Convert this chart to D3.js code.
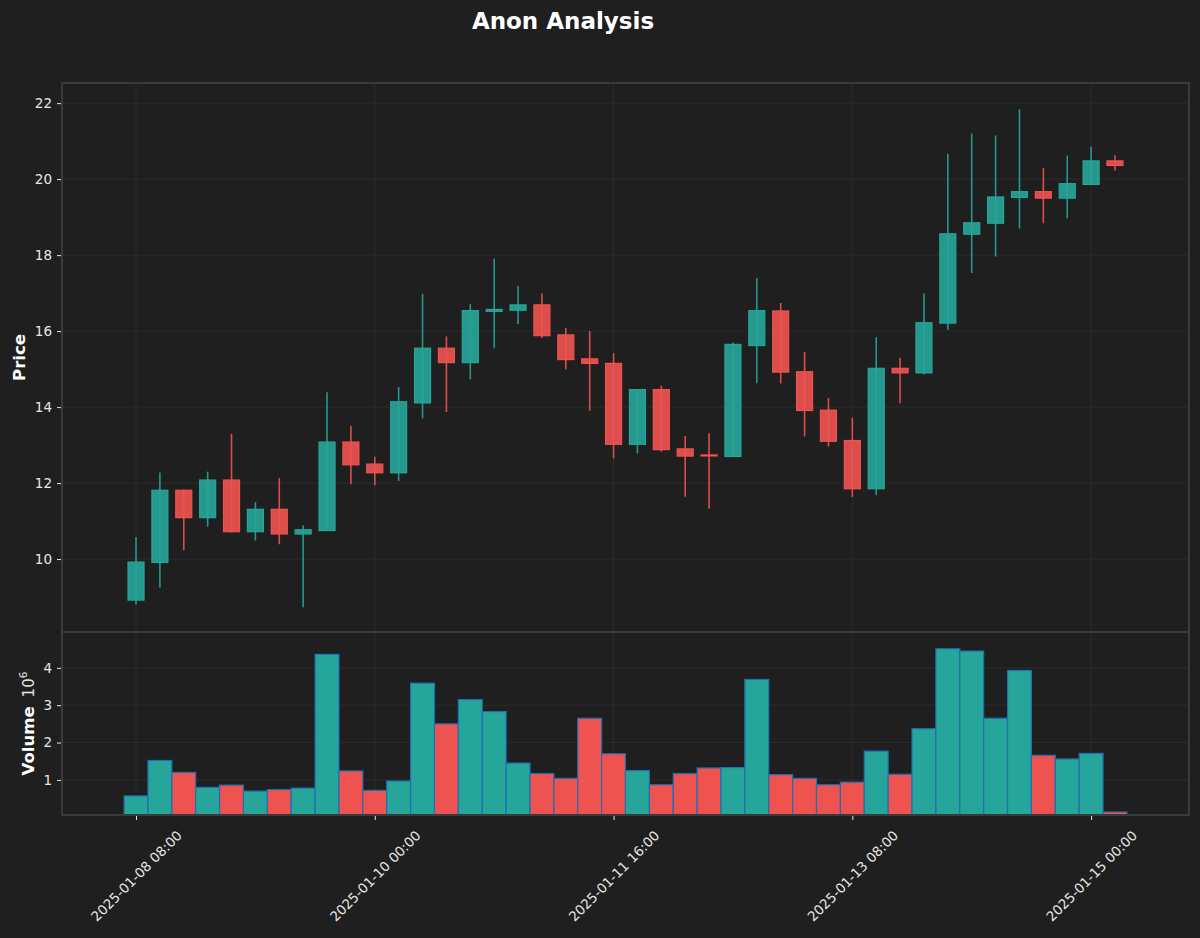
<!DOCTYPE html>
<html><head><meta charset="utf-8">
<script src="https://cdn.jsdelivr.net/npm/d3@7"></script>
<style>
html,body{margin:0;padding:0;background:#1f1f1f;}
svg{display:block;font-family:"DejaVu Sans",sans-serif;}
</style></head>
<body>
<svg id="chart" width="1200" height="938"></svg>
<script>
// ---- data ----
const startTime = "2025-01-08T08:00:00Z";
const stepHours = 4;
const opens  = [8.92,9.91,11.81,11.09,12.08,10.72,11.31,10.66,10.75,13.08,12.50,12.27,14.11,15.55,15.17,16.52,16.55,16.69,15.90,15.27,15.15,13.02,14.46,12.90,12.74,12.70,15.62,16.53,14.93,13.92,13.12,11.85,15.02,14.90,16.21,18.55,18.84,19.52,19.67,19.50,19.86,20.48];
const highs  = [10.58,12.28,11.83,12.30,13.30,11.50,12.13,10.89,14.39,13.51,12.69,14.53,16.98,15.86,16.71,17.91,17.19,16.99,16.08,16.00,15.42,14.46,14.56,13.24,13.31,15.70,17.40,16.74,15.45,14.24,13.72,15.84,15.30,16.99,20.67,21.20,21.15,21.84,20.29,20.62,20.85,20.63];
const lows   = [8.80,9.25,10.23,10.85,10.70,10.49,10.39,8.73,10.75,11.97,11.94,12.05,13.70,13.87,14.73,15.55,16.19,15.82,14.99,13.90,12.65,12.78,12.82,11.64,11.33,12.70,14.63,14.62,13.23,12.96,11.63,11.68,14.10,14.86,16.03,17.53,17.96,18.70,18.84,18.97,19.86,20.23];
const closes = [9.92,11.81,11.09,12.08,10.72,11.31,10.66,10.77,13.08,12.48,12.27,14.14,15.55,15.17,16.54,16.57,16.69,15.88,15.25,15.15,13.02,14.46,12.88,12.71,12.72,15.65,16.54,14.92,13.91,13.10,11.85,15.02,14.90,16.22,18.56,18.85,19.53,19.67,19.50,19.88,20.48,20.36];
const volumes = [0.57,1.52,1.20,0.80,0.86,0.70,0.74,0.78,4.36,1.24,0.72,0.97,3.59,2.50,3.15,2.83,1.45,1.17,1.04,2.65,1.70,1.25,0.87,1.17,1.32,1.33,3.69,1.14,1.04,0.87,0.94,1.77,1.15,2.37,4.51,4.45,2.65,3.93,1.66,1.56,1.71,0.14]; // x 1e6
const priceTicks = [10,12,14,16,18,20,22];
const volumeTicks = [1,2,3,4];
const timeTicks = ["2025-01-08T08:00:00Z","2025-01-10T00:00:00Z","2025-01-11T16:00:00Z","2025-01-13T08:00:00Z","2025-01-15T00:00:00Z"];

// ---- setup ----
const UP = "#26a69a", DOWN = "#ef5350";
const bg = "#1f1f1f", spine = "#3a3a3a", grid = "#2c2c2c", txt = "#e6e6e6";
const svg = d3.select("#chart");
svg.append("rect").attr("width",1200).attr("height",938).attr("fill",bg);

const t0 = new Date(startTime).getTime();
const H = 3600*1000;
const data = opens.map((o,i)=>({t:new Date(t0+i*stepHours*H),o,h:highs[i],l:lows[i],c:closes[i],v:volumes[i]}));

const L = 62, R = 1189, PT = 83, PB = 632, VT = 632, VB = 815;
const x = d3.scaleUtc()
  .domain([new Date(t0 - 3.1*stepHours*H), new Date(t0 + 44.1*stepHours*H)])
  .range([L, R]);
const step = x(new Date(t0+stepHours*H)) - x(new Date(t0));
const yP = d3.scaleLinear().domain([8.08, 22.53]).range([PB, PT]);
const yV = d3.scaleLinear().domain([0.06, 4.96]).range([VB, VT]);

// clip paths
const defs = svg.append("defs");
defs.append("clipPath").attr("id","cp").append("rect").attr("x",L).attr("y",PT).attr("width",R-L).attr("height",PB-PT);
defs.append("clipPath").attr("id","cv").append("rect").attr("x",L).attr("y",VT).attr("width",R-L).attr("height",VB-VT);

// grid
const tt = timeTicks.map(s=>new Date(s));
const gP = svg.append("g");
gP.selectAll("line.gy").data(priceTicks).join("line")
  .attr("x1",L).attr("x2",R).attr("y1",d=>yP(d)).attr("y2",d=>yP(d))
  .attr("stroke",grid).attr("stroke-width",1);
gP.selectAll("line.gx").data(tt).join("line")
  .attr("x1",d=>x(d)).attr("x2",d=>x(d)).attr("y1",PT).attr("y2",PB)
  .attr("stroke",grid).attr("stroke-width",1);
const gV = svg.append("g");
gV.selectAll("line.gy").data(volumeTicks).join("line")
  .attr("x1",L).attr("x2",R).attr("y1",d=>yV(d)).attr("y2",d=>yV(d))
  .attr("stroke",grid).attr("stroke-width",1);
gV.selectAll("line.gx").data(tt).join("line")
  .attr("x1",d=>x(d)).attr("x2",d=>x(d)).attr("y1",VT).attr("y2",VB)
  .attr("stroke",grid).attr("stroke-width",1);

// candles
const cg = svg.append("g").attr("clip-path","url(#cp)");
const bw = step*0.67;
const col = d => d.c >= d.o ? UP : DOWN;
cg.selectAll("line.wick").data(data).join("line")
  .attr("x1",d=>x(d.t)).attr("x2",d=>x(d.t))
  .attr("y1",d=>yP(d.h)).attr("y2",d=>yP(d.l))
  .attr("stroke",d=>col(d)).attr("stroke-width",1.6).attr("opacity",0.9);
cg.selectAll("rect.body").data(data).join("rect")
  .attr("x",d=>x(d.t)-bw/2).attr("width",bw)
  .attr("y",d=>yP(Math.max(d.o,d.c)))
  .attr("height",d=>Math.max(1,Math.abs(yP(d.o)-yP(d.c))))
  .attr("fill",d=>col(d)).attr("fill-opacity",0.9)
  .attr("stroke",d=>col(d)).attr("stroke-width",1.2);

// volume bars
const vg = svg.append("g").attr("clip-path","url(#cv)");
vg.selectAll("rect").data(data).join("rect")
  .attr("x",d=>x(d.t)-step/2).attr("width",step)
  .attr("y",d=>yV(d.v)).attr("height",d=>yV(0)-yV(d.v))
  .attr("fill",d=>col(d)).attr("stroke","#1f6fb4").attr("stroke-width",1.2);

// spines
[[PT,PB],[VT,VB]].forEach(([a,b])=>{
  svg.append("rect").attr("x",L).attr("y",a).attr("width",R-L).attr("height",b-a)
    .attr("fill","none").attr("stroke",spine).attr("stroke-width",2);
});

// y axes
const ayP = svg.append("g").attr("transform",`translate(${L-1},0)`)
  .call(d3.axisLeft(yP).tickValues(priceTicks).tickSize(4).tickPadding(5).tickFormat(d3.format("d")));
const ayV = svg.append("g").attr("transform",`translate(${L-1},0)`)
  .call(d3.axisLeft(yV).tickValues(volumeTicks).tickSize(4).tickPadding(5).tickFormat(d3.format("d")));
[ayP,ayV].forEach(a=>{
  a.select(".domain").remove();
  a.selectAll(".tick line").attr("stroke",txt).attr("stroke-width",1);
  a.selectAll(".tick text").attr("fill",txt).attr("font-size",13.5).attr("font-family","DejaVu Sans");
});

// x axis (labels rotated 45°, centred on tick)
const ax = svg.append("g").attr("transform",`translate(0,${VB+1})`)
  .call(d3.axisBottom(x).tickValues(tt).tickSize(4).tickFormat(d3.utcFormat("%Y-%m-%d %H:%M")));
ax.select(".domain").remove();
ax.selectAll(".tick line").attr("stroke",txt);
ax.selectAll(".tick text").attr("fill",txt).attr("font-size",13.5).attr("font-family","DejaVu Sans")
  .attr("text-anchor","middle").attr("y",0).attr("dy","0.35em")
  .attr("transform","translate(0,60) rotate(-45)");

// labels
svg.append("text").attr("x",563).attr("y",29).attr("text-anchor","middle")
  .attr("fill","#ffffff").attr("font-size",23).attr("font-weight","bold").text("Anon Analysis");
svg.append("text").attr("transform",`translate(25,${(PT+PB)/2}) rotate(-90)`).attr("text-anchor","middle")
  .attr("fill","#ffffff").attr("font-size",16.5).attr("font-weight","bold").text("Price");
const vl = svg.append("text").attr("transform",`translate(34,${(VT+VB)/2}) rotate(-90)`).attr("text-anchor","middle")
  .attr("fill","#ffffff").attr("font-size",16.5);
vl.append("tspan").attr("font-weight","bold").text("Volume");
vl.append("tspan").attr("dx",9).attr("font-size",15).attr("fill",txt).text("10");
vl.append("tspan").attr("font-size",10.5).attr("dy",-7).attr("fill",txt).text("6");
</script>
</body></html>
